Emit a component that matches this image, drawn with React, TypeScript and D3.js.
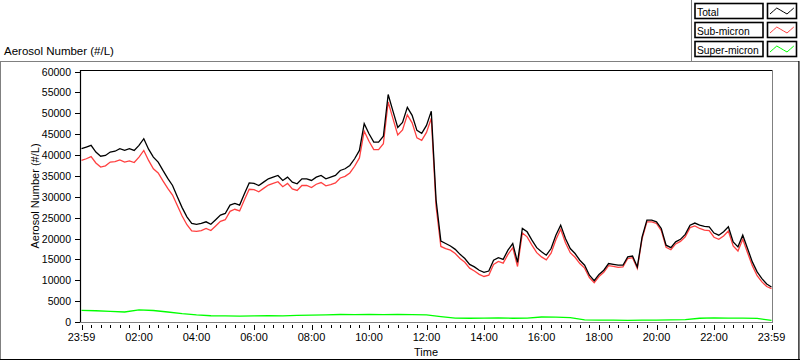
import React from "react";
import * as d3 from "d3";

// Total aerosol number (#/L), one value every 10 minutes from 23:59 to 23:59
const totalValues = [
  41500, 41900, 42300, 40700, 39700, 39900, 40700, 40900, 41500, 41100, 41500, 41100,
  42300, 43900, 41400, 39500, 38300, 36300, 34400, 32700, 30000, 27400, 25200, 23600,
  23400, 23600, 24000, 23400, 24500, 25600, 26000, 28000, 28400, 28000, 30700, 33300,
  33200, 32700, 33500, 34300, 34700, 35100, 33900, 34700, 33500, 33100, 34300, 34300,
  33900, 34700, 35100, 34300, 34700, 35100, 36300, 36700, 37500, 39100, 41100, 47500,
  45100, 43100, 43100, 44500, 54500, 50500, 46600, 47800, 51400, 49500, 45900, 45200,
  47100, 50500, 29200, 19400, 18800, 18200, 17400, 16200, 15200, 13800, 13200, 12400,
  11900, 12200, 14800, 15400, 15000, 17200, 18800, 14300, 22400, 21600, 19600, 17800,
  16800, 16000, 17600, 20800, 23200, 20000, 17600, 16400, 14800, 13600, 11200, 9900,
  11400, 12400, 14000, 13800, 13600, 13600, 15600, 15800, 13200, 20400, 24400, 24400,
  24000, 22400, 18400, 17800, 19200, 19800, 21000, 23200, 23700, 23200, 22900, 22800,
  21300, 20800, 21600, 22800, 19200, 18000, 20800, 17600, 14400, 12000, 10400, 9100,
  8400,
];

// Sub-micron, one value every 10 minutes
const subValues = [
  38700, 39100, 39600, 38100, 37100, 37400, 38300, 38400, 38800, 38300, 38600, 38200,
  39500, 41100, 38700, 36700, 35700, 33800, 32000, 30400, 27900, 25400, 23300, 21800,
  21700, 21900, 22400, 21900, 23000, 24100, 24500, 26500, 27000, 26600, 29300, 31800,
  31700, 31200, 32000, 32800, 33200, 33600, 32400, 33200, 31900, 31500, 32700, 32700,
  32200, 33000, 33400, 32600, 32900, 33300, 34500, 34900, 35700, 37300, 39300, 45700,
  43300, 41300, 41300, 42700, 52700, 48700, 44800, 46000, 49600, 47700, 44100, 43500,
  45400, 48800, 27700, 18100, 17600, 17200, 16400, 15200, 14300, 12900, 12200, 11400,
  10900, 11200, 13800, 14500, 14100, 16200, 17800, 13300, 21300, 20400, 18400, 16600,
  15600, 14900, 16500, 19700, 22200, 19000, 16600, 15500, 14000, 12900, 10600, 9400,
  10900, 11900, 13500, 13300, 13100, 13200, 15200, 15400, 12800, 20000, 24000, 24000,
  23600, 21900, 17900, 17300, 18700, 19300, 20400, 22600, 23000, 22400, 22000, 21900,
  20300, 19800, 20600, 21800, 18200, 17000, 19800, 16600, 13500, 11100, 9600, 8500,
  8000,
];

// Super-micron, one value every 30 minutes
const superValues = [
  2800, 2700, 2550, 2400, 2900, 2750, 2400, 2000, 1700, 1500, 1450, 1400,
  1450, 1500, 1450, 1600, 1650, 1700, 1800, 1750, 1800, 1750, 1800, 1750,
  1700, 1300, 950, 900, 950, 1000, 900, 950, 1200, 1150, 1050, 500,
  450, 450, 400, 450, 450, 500, 550, 900, 1000, 950, 950, 850,
  400,
];

const xTickHours = [0, 2, 4, 6, 8, 10, 12, 14, 16, 18, 20, 22, 24];
const xTickLabels = ["23:59", "02:00", "04:00", "06:00", "08:00", "10:00", "12:00", "14:00", "16:00", "18:00", "20:00", "22:00", "23:59"];
const yTickValues = [0, 5000, 10000, 15000, 20000, 25000, 30000, 35000, 40000, 45000, 50000, 55000, 60000];
const legendLabels = ["Total", "Sub-micron", "Super-micron"];
const seriesColors = ["#000000", "#ff4040", "#00ff00"];

const FONT = "'Liberation Sans', Arial, sans-serif";

export default function App() {
  const x = d3.scaleLinear().domain([0, 24]).range([81.5, 771.5]);
  const y = d3.scaleLinear().domain([0, 60000]).range([322, 71.5]);

  const mkLine = (step: number) =>
    d3
      .line<number>()
      .x((_, i) => x(i * step))
      .y((d) => y(d));

  const totalPath = mkLine(1 / 6)(totalValues) || "";
  const subPath = mkLine(1 / 6)(subValues) || "";
  const superPath = mkLine(1 / 2)(superValues) || "";

  const minorTicks = d3.range(0, 73).map((k) => k / 3);

  const swatch = d3
    .line<[number, number]>()
    .x((d) => d[0])
    .y((d) => d[1]);
  const swatchPts: [number, number][] = [
    [0, 10], [4, 7], [8, 4], [12, 6], [16, 8], [20, 10], [24, 7], [28, 4],
  ];

  const legendRows = [3, 22, 41];

  return (
    <svg
      width={800}
      height={361}
      style={{ position: "absolute", left: 0, top: 0, background: "#fff" }}
      fontFamily={FONT}
    >
      <rect x={0} y={0} width={800} height={361} fill="#fff" />

      {/* outer panel frame */}
      <line x1={0} y1={61.5} x2={799} y2={61.5} stroke="#808080" strokeWidth={1} />
      <line x1={0.5} y1={61} x2={0.5} y2={360} stroke="#808080" strokeWidth={1} />
      <line x1={0} y1={359.5} x2={800} y2={359.5} stroke="#000" strokeWidth={1.2} />
      <line x1={798.9} y1={61} x2={798.9} y2={360} stroke="#000" strokeWidth={1.2} />

      {/* legend frame */}
      <line x1={691.5} y1={0} x2={691.5} y2={61.5} stroke="#808080" strokeWidth={1} />

      {/* legend */}
      {legendLabels.map((lab, i) => {
        const ty = legendRows[i];
        return (
          <g key={lab}>
            <rect x={695} y={ty + 0.5} width={68} height={15} fill="#fff" stroke="#000" strokeWidth={1.6} />
            <text x={697} y={ty + 12.5} fontSize={10.3} fill="#000">
              {lab}
            </text>
            <rect x={767.5} y={ty + 0.5} width={29} height={15} fill="#fff" stroke="#000" strokeWidth={1.6} />
            <path
              d={swatch(swatchPts.map(([a, b]) => [770 + a * 0.85, ty + 1 + b] as [number, number])) || ""}
              fill="none"
              stroke={seriesColors[i]}
              strokeWidth={1}
            />
          </g>
        );
      })}

      {/* title */}
      <text x={4} y={55} fontSize={11.5} fill="#000">
        Aerosol Number (#/L)
      </text>

      {/* plot background */}
      <rect x={81} y={71} width={691} height={251} fill="#fff" />

      {/* data */}
      <path d={superPath} fill="none" stroke={seriesColors[2]} strokeWidth={1.3} />
      <path d={subPath} fill="none" stroke={seriesColors[1]} strokeWidth={1.3} />
      <path d={totalPath} fill="none" stroke={seriesColors[0]} strokeWidth={1.3} />

      {/* plot border */}
      <line x1={80} y1={70.5} x2={773} y2={70.5} stroke="#000" strokeWidth={1} />
      <line x1={80.5} y1={70} x2={80.5} y2={322.5} stroke="#000" strokeWidth={1.2} />
      <line x1={772.5} y1={70} x2={772.5} y2={323} stroke="#808080" strokeWidth={1} />
      <line x1={80} y1={322.5} x2={773} y2={322.5} stroke="#808080" strokeWidth={1} />

      {/* y axis ticks */}
      {yTickValues.map((v) => (
        <g key={v}>
          <line x1={75} y1={Math.round(y(v)) + 0.5} x2={80} y2={Math.round(y(v)) + 0.5} stroke="#000" />
          <text x={71} y={y(v) + 4} fontSize={10.5} textAnchor="end" fill="#000">
            {String(v)}
          </text>
        </g>
      ))}

      {/* x axis ticks */}
      {minorTicks.map((h) => (
        <line key={"m" + h} x1={Math.round(x(h)) + 0.5} y1={325} x2={Math.round(x(h)) + 0.5} y2={328} stroke="#000" />
      ))}
      {xTickHours.map((h, i) => (
        <g key={"M" + h}>
          <line x1={Math.round(x(h)) + 0.5} y1={325} x2={Math.round(x(h)) + 0.5} y2={330} stroke="#000" />
          <text x={x(h)} y={340.5} fontSize={11} textAnchor="middle" fill="#000">
            {xTickLabels[i]}
          </text>
        </g>
      ))}

      {/* axis titles */}
      <text x={426} y={355.5} fontSize={11} textAnchor="middle" fill="#000">
        Time
      </text>
      <text
        transform={`translate(39,196) rotate(-90)`}
        fontSize={11}
        textAnchor="middle"
        fill="#000"
      >
        Aerosol Number (#/L)
      </text>
    </svg>
  );
}
